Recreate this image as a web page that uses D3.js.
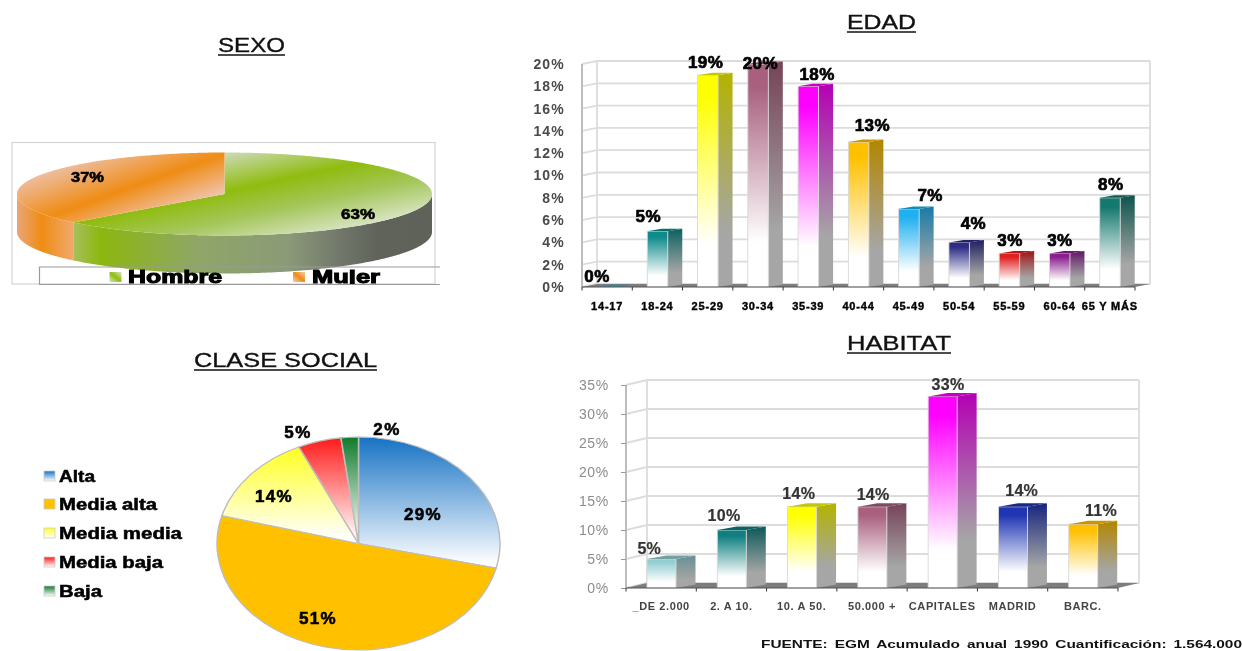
<!DOCTYPE html>
<html><head><meta charset="utf-8">
<script src="https://cdnjs.cloudflare.com/ajax/libs/d3/7.8.5/d3.min.js"></script>
<style>html,body{margin:0;background:#fff}svg{display:block;filter:blur(.45px)}text{font-family:"Liberation Sans",Arial,sans-serif}</style>
</head><body><svg id="c" width="1242" height="651"></svg>
<script>
// ---- data ----
const sexoCategories = ["Hombre", "Mujer"];
const sexoValues = [63, 37];
const edadCategories = ["14-17","18-24","25-29","30-34","35-39","40-44","45-49","50-54","55-59","60-64","65 Y MÁS"];
const edadValues = [0, 5, 19, 20, 18, 13, 7, 4, 3, 3, 8];
const edadColors = ["#4bacc6","#0f8a8a","#ffff00","#a8607e","#ff00ff","#ffc000","#1fb0f0","#2c2c86","#e01f1f","#8a2090","#14786e"];
const edadTicks = [0,2,4,6,8,10,12,14,16,18,20];
const claseCategories = ["Alta","Media alta","Media media","Media baja","Baja"];
const claseValues = [29, 51, 14, 5, 2];
const claseColors = ["#1672c4","#ffc000","#ffff20","#ff1a1a","#0f7a2a"];
const habitatCategories = ["_DE 2.000","2. A 10.","10. A 50.","50.000 +","CAPITALES","MADRID","BARC."];
const habitatValues = [5, 10, 14, 14, 33, 14, 11];
const habitatColors = ["#92cdd2","#0f7f7f","#ffff00","#a8607e","#ff00ff","#1f35b4","#ffc000"];
const habitatTicks = [0,5,10,15,20,25,30,35];

// ---- layout-only label nudges (not data) ----
const edadNudge = [[-17.5,-11],[-16.5,-15],[-9.5,-13],[-5,-1],[1.5,-12],[6.5,-17],[14,-14],[7,-20],[-6.7,-13.5],[-7,-13.5],[-6.5,-14]];
const habNudge = [[-22,-11],[-17.5,-15],[-13,-14],[-9,-13],[-4.4,-12.6],[-1,-17],[8,-14]];
const claseLabelPos = [[64.5,-29.5],[-40.5,74.5],[-84.5,-47.5],[-60.5,-111.5],[28.5,-114.5]];

const svg = d3.select("#c");
const defs = svg.append("defs");
let gid = 0;
function grad(stops, o) {
  const id = "g" + (++gid);
  const g = defs.append("linearGradient").attr("id", id);
  Object.entries(o || {x1:0,y1:0,x2:0,y2:1}).forEach(([k,v]) => g.attr(k,v));
  stops.forEach(([off,col]) => g.append("stop").attr("offset",off).attr("stop-color",col));
  return "url(#"+id+")";
}
function label(g, x, y, s, size, w, heavy, fill) {
  const t = g.append("text").attr("x",x).attr("y",y).text(s)
    .attr("font-size",size).attr("font-weight","bold").attr("fill",fill||"#000");
  if (w) t.attr("textLength",w).attr("lengthAdjust","spacingAndGlyphs");
  if (heavy) t.attr("stroke",fill||"#000").attr("stroke-width",heavy);
  return t;
}
function title(s, x0, x1, base) {
  svg.append("text").attr("x",x0).attr("y",base).text(s).attr("font-size",20)
     .attr("fill","#111").attr("stroke","#111").attr("stroke-width",.35).attr("textLength",x1-x0).attr("lengthAdjust","spacingAndGlyphs");
  svg.append("line").attr("x1",x0).attr("x2",x1).attr("y1",base+3).attr("y2",base+3).attr("stroke","#111").attr("stroke-width",1.6);
}
title("SEXO",218,285,52);
title("EDAD",847,916,29);
title("CLASE SOCIAL",194,377,367);
title("HABITAT",847,951,350);

// ---- SEXO ----
(function(){
  const g = svg.append("g");
  g.append("rect").attr("x",12).attr("y",142.5).attr("width",423).attr("height",141.5).attr("fill","#fff").attr("stroke","#d4d4d4").attr("stroke-width",1.2);
  const cx=224.5, cy=194, rx=207.5, ry=41.5, depth=38;
  const arcs = d3.pie().sort(null).startAngle(0).endAngle(2*Math.PI)(sexoValues);
  const sideFill = [
    grad([[0,"#a8c060"],[.08,"#8cb70e"],[.35,"#8fa668"],[.6,"#8b9a78"],[.75,"#70766a"],[.85,"#5f6359"],[1,"#5e6258"]],{gradientUnits:"userSpaceOnUse",x1:72,y1:0,x2:432,y2:0}),
    grad([[0,"#eaa67a"],[.45,"#ef8c14"],[1,"#f0a868"]],{gradientUnits:"userSpaceOnUse",x1:17,y1:0,x2:72,y2:0})
  ];
  const topFill = [
    grad([[0,"#cfdcc0"],[.36,"#8fbc0e"],[.62,"#a4c65a"],[1,"#e6ecdc"]],{gradientUnits:"userSpaceOnUse",x1:225,y1:151,x2:248,y2:259}),
    grad([[0,"#eec0a8"],[.55,"#ef8c14"],[1,"#f0c4ac"]],{gradientUnits:"userSpaceOnUse",x1:125,y1:141,x2:153,y2:219})
  ];
  const px = a => cx + rx*Math.sin(a), py = a => cy - ry*Math.cos(a);
  arcs.forEach((d,i)=>{
    const a0=Math.max(d.startAngle,Math.PI/2), a1=Math.min(d.endAngle,3*Math.PI/2);
    if(a1<=a0) return;
    const as=d3.range(a0,a1,0.01).concat([a1]);
    const top=as.map(a=>[px(a),py(a)]), bot=as.map(a=>[px(a),py(a)+depth]).reverse();
    g.append("path").attr("d",d3.line()(top.concat(bot))+"Z").attr("fill",sideFill[i]);
  });
  arcs.forEach((d,i)=>{
    const as=d3.range(d.startAngle,d.endAngle,0.01).concat([d.endAngle]);
    const pts=[[cx,cy]].concat(as.map(a=>[px(a),py(a)]));
    g.append("path").attr("d",d3.line()(pts)+"Z").attr("fill",topFill[i]);
  });
  label(g,71,182,sexoValues[1]+"%",15,33,.6);
  label(g,341,219,sexoValues[0]+"%",15,34,.6);
  // legend
  g.append("path").attr("d",d3.line()([[440,267],[39.5,267],[39.5,284.5],[440,284.5]])).attr("fill","none").attr("stroke","#9a9a9a").attr("stroke-width",1.2);
  defs.append("clipPath").attr("id","lc").append("rect").attr("x",39).attr("y",262).attr("width",402).attr("height",22);
  const lg=g.append("g").attr("clip-path","url(#lc)");
  const swatch=[
    grad([[0,"#d8e6c0"],[.5,"#8fbc0e"],[1,"#d8e6c0"]],{x1:0,y1:1,x2:1,y2:0}),
    grad([[0,"#f6cdb0"],[.5,"#ef8c14"],[1,"#f6cdb0"]],{x1:0,y1:1,x2:1,y2:0})
  ];
  const sx=[109.5,293], tx=[128,312], tw=[94,68];
  sexoCategories.forEach((c,i)=>{
    lg.append("rect").attr("x",sx[i]).attr("y",272).attr("width",12).attr("height",10).attr("fill",swatch[i]);
    label(lg,tx[i],283,c,19,tw[i],1.1);
  });
})();

// ---- 3D bars ----
function bars3D(o){
  const g=svg.append("g");
  const x=d3.scaleBand().domain(o.cats).range([o.left,o.right]);
  const y=d3.scaleLinear().domain([0,o.max]).range([o.y0,o.yTop]);
  const grid="#dcdcdc";
  o.ticks.forEach(t=>{
    g.append("path").attr("d",d3.line()([[o.left,y(t)],[o.left+o.dx,y(t)-o.wy],[o.right+o.dx,y(t)-o.wy]]))
     .attr("fill","none").attr("stroke",grid).attr("stroke-width",1.8);
  });
  [[o.left+o.dx,1.8],[o.right+o.dx,1.8],[o.left,2]].forEach(([xx,w],i)=>{
    const off=i<2?o.wy:0;
    g.append("line").attr("x1",xx).attr("x2",xx).attr("y1",y(o.max)-off).attr("y2",o.y0-off).attr("stroke",i==2?"#bdbdbd":grid).attr("stroke-width",w);
  });
  g.append("path").attr("d",d3.line()([[o.left,o.y0],[o.left+o.dx,o.y0-o.wy],[o.right+o.dx,o.y0-o.wy],[o.right,o.y0]])+"Z").attr("fill","#7d7d7d");
  const ya=d3.axisLeft(y).tickValues(o.ticks).tickFormat(d=>d+"%").tickSize(o.yTick).tickPadding(o.yPad);
  const yg=g.append("g").attr("transform",`translate(${o.left},0)`).call(ya);
  yg.select(".domain").remove();
  yg.selectAll("line").attr("stroke","#999");
  yg.selectAll("text").attr("font-size",o.yFont).attr("font-weight",o.yWeight).attr("fill",o.yFill).attr("letter-spacing",o.ySp).attr("font-family","Liberation Sans");
  o.vals.forEach((v,i)=>{
    const c=o.cols[i], b=x(o.cats[i]), xf=b+o.dx, xs=xf+o.fw, top=y(v), h=o.y0-top;
    const cc=d3.color(c);
    if(h>0){
      g.append("path").attr("d",d3.line()([[xs,top],[xs+o.sw,top-o.by],[xs+o.sw,o.y0-o.by],[xs,o.y0]])+"Z")
       .attr("fill",grad([[0,cc.darker(1).formatHex()],[.75,"#a6a6a6"],[1,"#a6a6a6"]]));
      g.append("rect").attr("x",xf).attr("y",top).attr("width",o.fw).attr("height",h)
       .attr("fill",grad([[0,c],[.1,c],[.8,"#ffffff"],[1,"#ffffff"]])).attr("stroke","#d8d8d8").attr("stroke-width",.9);
    }
    g.append("path").attr("d",d3.line()([[xf,top],[xs,top],[xs+o.sw,top-o.by],[xf+o.sw,top-o.by]])+"Z")
     .attr("fill",cc.darker(.7).formatHex());
    const n=o.nudge[i];
    g.append("text").attr("x",xf+(o.fw+o.sw)/2+n[0]).attr("y",top+n[1]).attr("dy",".36em").attr("text-anchor","middle").text(v+"%")
      .attr("font-size",o.valFont).attr("font-weight","bold").attr("fill",o.valFill).attr("letter-spacing",o.valSp)
      .attr("stroke",o.valFill).attr("stroke-width",o.valStroke);
  });
  g.append("line").attr("x1",o.left).attr("x2",o.right).attr("y1",o.y0).attr("y2",o.y0).attr("stroke","#555").attr("stroke-width",1);
  x.domain().forEach((c,i)=>{
    [x(c)].concat(i==o.cats.length-1?[x(c)+x.bandwidth()]:[]).forEach(tx=>g.append("line").attr("x1",tx).attr("x2",tx).attr("y1",o.y0).attr("y2",o.y0+3.5).attr("stroke","#333"));
    const t=g.append("text").attr("x",x(c)+x.bandwidth()/2).attr("y",o.catY).attr("text-anchor","middle").text(c)
      .attr("font-size",o.catFont).attr("font-weight","bold").attr("fill",o.catFill).attr("letter-spacing",o.catSp);
    if(o.catStroke) t.attr("stroke",o.catFill).attr("stroke-width",o.catStroke);
  });
}
bars3D({cats:edadCategories,vals:edadValues,cols:edadColors,ticks:edadTicks,max:20,left:582,right:1135,y0:287,yTop:64,dx:15,wy:3,by:2.5,fw:20.5,sw:14.5,
  yTick:0,yPad:17,yFont:14,yWeight:"bold",yFill:"#4a4a4a",ySp:1.2,nudge:edadNudge,valFont:17,valFill:"#000",valSp:.4,valStroke:.7,catY:309.5,catFont:11,catFill:"#000",catSp:.8,catStroke:.4});
bars3D({cats:habitatCategories,vals:habitatValues,cols:habitatColors,ticks:habitatTicks,max:35,left:626,right:1118,y0:588,yTop:385,dx:21,wy:5,by:3.5,fw:29,sw:19.5,
  yTick:5,yPad:12,yFont:14,yWeight:"normal",yFill:"#8c8c8c",ySp:.7,nudge:habNudge,valFont:16,valFill:"#333",valSp:.3,valStroke:.2,catY:610,catFont:11,catFill:"#444",catSp:.6,catStroke:0});

// ---- CLASE SOCIAL ----
(function(){
  const g=svg.append("g");
  const cx=358.5, cy=543.5, rx=141.5, ry=106.5;
  const arcs=d3.pie().sort(null).startAngle(0).endAngle(2*Math.PI)(claseValues);
  const arc=d3.arc().innerRadius(0).outerRadius(rx);
  const pg=g.append("g").attr("transform",`translate(${cx},${cy}) scale(1,${ry/rx})`);
  pg.selectAll("path").data(arcs).join("path").attr("d",arc)
    .attr("fill",(d,i)=> i==1 ? claseColors[1] : grad([[0,claseColors[i]],[i==0?.97:.95,"#ffffff"],[1,"#ffffff"]]))
    .attr("stroke","#bdbdbd").attr("stroke-width",1.5);
  arcs.forEach((d,i)=>{
    const p=claseLabelPos[i];
    g.append("text").attr("x",cx+p[0]).attr("y",cy+p[1]+6).attr("text-anchor","middle").text(claseValues[i]+"%")
      .attr("font-size",17).attr("font-weight","bold").attr("letter-spacing",1.4).attr("stroke","#000").attr("stroke-width",.6);
  });
  const ys=[476,504,533,562,591], tw=[36,98,123,104,43];
  claseCategories.forEach((c,i)=>{
    g.append("rect").attr("x",44).attr("y",ys[i]-5).attr("width",11).attr("height",10)
      .attr("fill",i==1?claseColors[1]:grad([[0,claseColors[i]],[1,"#ffffff"]])).attr("stroke","#ccc").attr("stroke-width",.8);
    label(g,59,ys[i]+5.5,c,16,tw[i],.5);
  });
})();

label(svg,761,648,"FUENTE: EGM Acumulado anual 1990 Cuantificación: 1.564.000",11.5,481,0,"#111").attr("word-spacing",2);
</script></body></html>
